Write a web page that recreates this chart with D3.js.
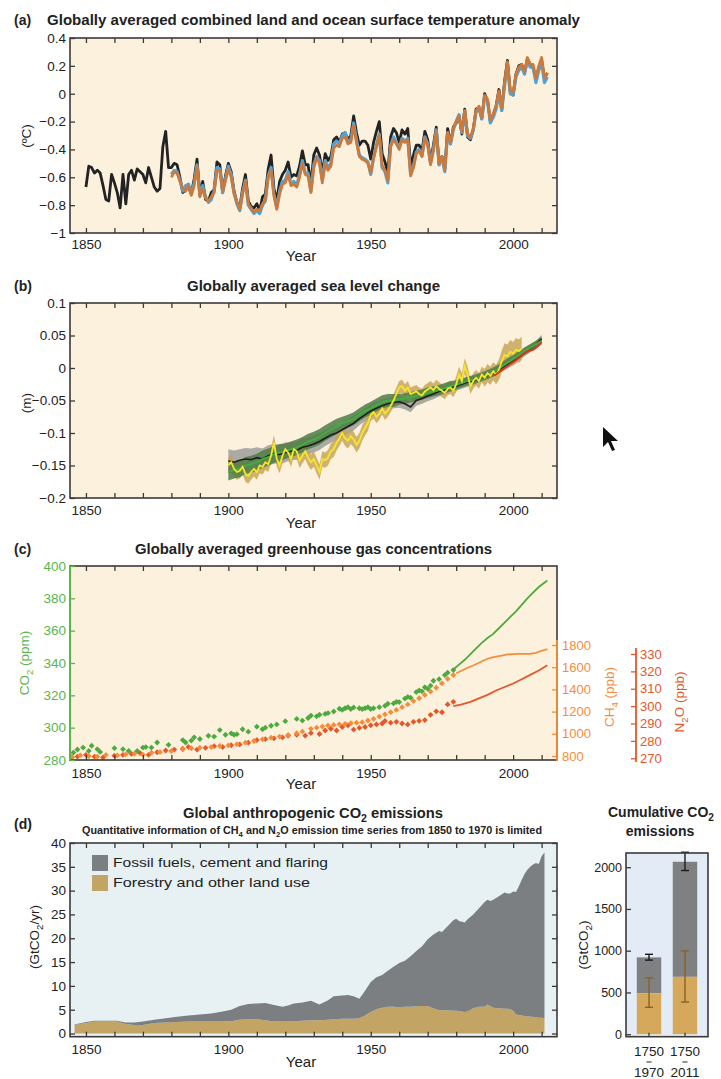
<!DOCTYPE html>
<html><head><meta charset="utf-8">
<script src="https://cdn.jsdelivr.net/npm/d3@7"></script>
<style>
body{margin:0;background:#fff;}
svg text{font-family:'Liberation Sans Narrow','Liberation Sans',Arial,sans-serif;}
</style></head><body>
<svg id="c" width="721" height="1079"></svg>
<script>
// ================= DATA =================
// (a) temperature anomaly (degC), yearly
const hadStart = 1850;
const hadcrut = [
-0.67,-0.52,-0.53,-0.57,-0.55,-0.57,-0.66,-0.76,-0.77,-0.58,
-0.64,-0.71,-0.82,-0.58,-0.79,-0.58,-0.55,-0.62,-0.54,-0.56,
-0.58,-0.64,-0.53,-0.60,-0.67,-0.70,-0.68,-0.38,-0.27,-0.53,
-0.53,-0.50,-0.51,-0.60,-0.71,-0.69,-0.67,-0.72,-0.61,-0.47,
-0.72,-0.63,-0.76,-0.77,-0.71,-0.69,-0.49,-0.51,-0.71,-0.59,
-0.50,-0.56,-0.70,-0.78,-0.82,-0.68,-0.58,-0.77,-0.81,-0.82,
-0.79,-0.84,-0.74,-0.72,-0.54,-0.44,-0.68,-0.77,-0.63,-0.58,
-0.55,-0.49,-0.60,-0.58,-0.59,-0.52,-0.41,-0.51,-0.51,-0.65,
-0.44,-0.39,-0.44,-0.57,-0.43,-0.48,-0.45,-0.33,-0.31,-0.35,
-0.29,-0.28,-0.33,-0.30,-0.16,-0.28,-0.37,-0.34,-0.34,-0.37,
-0.47,-0.35,-0.27,-0.20,-0.43,-0.49,-0.57,-0.31,-0.25,-0.28,
-0.35,-0.26,-0.29,-0.25,-0.52,-0.44,-0.37,-0.37,-0.41,-0.27,
-0.33,-0.49,-0.37,-0.24,-0.51,-0.45,-0.54,-0.25,-0.36,-0.24,
-0.21,-0.16,-0.29,-0.11,-0.31,-0.33,-0.26,-0.11,-0.10,-0.18,
0.00,-0.05,-0.20,-0.15,-0.09,0.03,-0.12,0.09,0.24,0.01,
-0.01,0.14,0.20,0.21,0.15,0.25,0.21,0.19,0.10,0.19,
0.24,0.11,0.15];
const otherStart = 1880;
const mlost = [
-0.60,-0.56,-0.57,-0.63,-0.68,-0.70,-0.66,-0.73,-0.66,-0.52,
-0.74,-0.68,-0.75,-0.77,-0.74,-0.71,-0.55,-0.55,-0.70,-0.62,
-0.54,-0.60,-0.72,-0.78,-0.83,-0.72,-0.63,-0.79,-0.82,-0.85,
-0.83,-0.84,-0.79,-0.76,-0.60,-0.55,-0.73,-0.83,-0.72,-0.65,
-0.64,-0.58,-0.66,-0.65,-0.67,-0.60,-0.50,-0.58,-0.59,-0.71,
-0.53,-0.46,-0.50,-0.64,-0.50,-0.55,-0.52,-0.39,-0.37,-0.38,
-0.32,-0.31,-0.36,-0.35,-0.23,-0.35,-0.45,-0.47,-0.48,-0.50,
-0.57,-0.46,-0.38,-0.30,-0.52,-0.55,-0.62,-0.38,-0.33,-0.36,
-0.40,-0.33,-0.35,-0.33,-0.59,-0.53,-0.43,-0.41,-0.45,-0.32,
-0.37,-0.51,-0.41,-0.27,-0.50,-0.45,-0.55,-0.28,-0.35,-0.25,
-0.20,-0.16,-0.27,-0.12,-0.29,-0.31,-0.25,-0.12,-0.09,-0.17,
-0.01,-0.04,-0.19,-0.15,-0.09,0.02,-0.10,0.08,0.23,0.02,
0.01,0.14,0.19,0.21,0.16,0.26,0.21,0.21,0.11,0.20,
0.26,0.11,0.15];
const giss = [
-0.58,-0.55,-0.56,-0.62,-0.70,-0.66,-0.65,-0.72,-0.64,-0.51,
-0.73,-0.66,-0.74,-0.78,-0.76,-0.70,-0.53,-0.54,-0.71,-0.61,
-0.52,-0.58,-0.71,-0.79,-0.84,-0.71,-0.62,-0.80,-0.83,-0.86,
-0.84,-0.86,-0.80,-0.77,-0.59,-0.53,-0.72,-0.82,-0.70,-0.63,
-0.62,-0.56,-0.65,-0.63,-0.66,-0.58,-0.48,-0.57,-0.57,-0.70,
-0.51,-0.45,-0.48,-0.62,-0.48,-0.53,-0.50,-0.36,-0.34,-0.36,
-0.30,-0.28,-0.35,-0.33,-0.21,-0.33,-0.44,-0.46,-0.47,-0.49,
-0.58,-0.46,-0.37,-0.29,-0.53,-0.56,-0.64,-0.37,-0.31,-0.35,
-0.39,-0.32,-0.34,-0.32,-0.58,-0.52,-0.42,-0.40,-0.45,-0.31,
-0.36,-0.50,-0.40,-0.26,-0.51,-0.46,-0.56,-0.28,-0.36,-0.26,
-0.20,-0.15,-0.28,-0.13,-0.30,-0.32,-0.26,-0.13,-0.10,-0.18,
-0.02,-0.05,-0.21,-0.17,-0.11,0.00,-0.12,0.06,0.20,0.00,
-0.01,0.12,0.17,0.19,0.14,0.24,0.19,0.19,0.08,0.17,
0.22,0.08,0.12];
const tempTicks = [-1,-0.8,-0.6,-0.4,-0.2,0,0.2,0.4];

// (b) sea level (m)
const slStart = 1900, slStep = 2;
const slBlack = [
-0.143,-0.145,-0.142,-0.140,-0.141,-0.138,-0.140,-0.135,-0.132,-0.133,
-0.130,-0.128,-0.127,-0.122,-0.120,-0.117,-0.113,-0.108,-0.103,-0.100,
-0.095,-0.090,-0.085,-0.078,-0.072,-0.066,-0.062,-0.058,-0.055,-0.053,
-0.052,-0.055,-0.060,-0.050,-0.047,-0.043,-0.040,-0.036,-0.034,-0.030,
-0.028,-0.025,-0.022,-0.020,-0.016,-0.013,-0.010,-0.005,0.000,0.005,
0.010,0.016,0.024,0.030,0.036,0.045];
const slBlackUnc = [
0.018,0.018,0.017,0.017,0.017,0.016,0.016,0.016,0.015,0.015,
0.015,0.014,0.014,0.014,0.013,0.013,0.013,0.012,0.012,0.012,
0.011,0.011,0.011,0.010,0.010,0.010,0.010,0.009,0.009,0.009,
0.009,0.009,0.008,0.008,0.008,0.008,0.008,0.008,0.007,0.007,
0.007,0.007,0.007,0.007,0.006,0.006,0.006,0.006,0.006,0.006,
0.006,0.006,0.006,0.006,0.006,0.006];
const slGreen = [
-0.160,-0.157,-0.155,-0.150,-0.148,-0.145,-0.140,-0.137,-0.133,-0.130,
-0.128,-0.125,-0.122,-0.118,-0.113,-0.110,-0.106,-0.100,-0.095,-0.090,
-0.085,-0.082,-0.078,-0.072,-0.066,-0.062,-0.057,-0.052,-0.050,-0.050,
-0.048,-0.047,-0.045,-0.043,-0.041,-0.038,-0.036,-0.034,-0.031,-0.028,
-0.026,-0.023,-0.020,-0.018,-0.015,-0.012,-0.008,-0.004,0.002,0.008,
0.014,0.020,0.026,0.031,0.036,0.042];
const slGreenUnc = [
0.013,0.013,0.013,0.013,0.013,0.013,0.013,0.013,0.013,0.013,
0.012,0.012,0.012,0.012,0.012,0.012,0.012,0.012,0.012,0.012,
0.010,0.010,0.010,0.010,0.010,0.010,0.010,0.010,0.010,0.010,
0.008,0.008,0.008,0.008,0.008,0.008,0.008,0.008,0.008,0.008,
0.007,0.007,0.007,0.007,0.007,0.007,0.007,0.007,0.007,0.007,
0.006,0.006,0.006,0.006,0.006,0.006];
const slYellowStart = 1900;
const slYellow = [
-0.150,-0.145,-0.155,-0.160,-0.158,-0.152,-0.163,-0.166,-0.160,-0.155,
-0.160,-0.150,-0.152,-0.145,-0.148,-0.135,-0.115,-0.140,-0.150,-0.135,
-0.125,-0.130,-0.140,-0.125,-0.128,-0.142,-0.135,-0.128,-0.138,-0.145,
-0.140,-0.150,-0.160,-0.140,-0.142,-0.138,-0.128,-0.125,-0.115,-0.108,
-0.100,-0.108,-0.112,-0.105,-0.110,-0.118,-0.112,-0.100,-0.092,-0.085,
-0.072,-0.068,-0.075,-0.070,-0.062,-0.070,-0.065,-0.058,-0.050,-0.040,
-0.030,-0.028,-0.035,-0.030,-0.040,-0.038,-0.036,-0.040,-0.042,-0.036,
-0.033,-0.030,-0.034,-0.028,-0.032,-0.035,-0.038,-0.032,-0.030,-0.035,
-0.025,-0.010,-0.020,0.003,-0.010,-0.028,-0.020,-0.015,-0.020,-0.010,
-0.015,-0.008,-0.012,-0.005,-0.010,-0.003,0.010,0.020,0.018,0.025,
0.022,0.028,0.026,0.030];
const slYellowUnc = [
0.012,0.012,0.012,0.012,0.012,0.012,0.012,0.012,0.012,0.012,
0.012,0.012,0.012,0.012,0.012,0.012,0.012,0.012,0.012,0.012,
0.012,0.012,0.012,0.012,0.012,0.012,0.012,0.012,0.012,0.012,
0.012,0.012,0.012,0.012,0.012,0.012,0.012,0.012,0.012,0.012,
0.012,0.012,0.012,0.012,0.012,0.012,0.012,0.012,0.012,0.012,
0.010,0.010,0.010,0.010,0.010,0.010,0.010,0.010,0.010,0.010,
0.010,0.010,0.010,0.010,0.010,0.010,0.010,0.010,0.010,0.010,
0.010,0.010,0.010,0.010,0.010,0.010,0.010,0.010,0.010,0.010,
0.012,0.012,0.012,0.012,0.012,0.012,0.012,0.012,0.012,0.012,
0.014,0.014,0.014,0.014,0.015,0.016,0.017,0.018,0.018,0.018,
0.018,0.018,0.018,0.018];
const slRedStart = 1993;
const slRed = [-0.012,-0.010,-0.006,-0.003,0.000,0.003,0.006,0.009,0.012,0.016,
0.020,0.023,0.026,0.027,0.028,0.031,0.035,0.040];
const seaTicks = [-0.2,-0.15,-0.1,-0.05,0,0.05,0.1];

// (c) greenhouse gases [year, value]
const co2Ice = [[1845.6,284.6],[1847,286.5],[1849,287.7],[1851,285.6],[1852,288.8],[1854,286.7],[1855,285],
[1860,287.3],[1863,286.7],[1865,285.6],[1868,285.6],[1870,287.7],[1871,288],[1873,287.7],[1875,290.8],
[1879,289.4],[1884,292.3],[1885,290.8],[1887,292],[1888,294],[1890,293],[1893,295],[1895,294.5],
[1897,298.5],[1899,295.6],[1901,296.5],[1902,295.6],[1903,296],[1905,299],[1907,297.5],[1910,300.6],
[1912,299],[1913,300],[1915,301.2],[1917,302],[1920,304],[1924,305.4],[1926,304.4],[1928,306],
[1929,307.5],[1931,307],[1932,308],[1934,308.5],[1935,309],[1937,310],[1939,311.7],[1940,311],
[1941,312],[1942,312.7],[1943,311.5],[1944,312.5],[1946,312],[1947,311.5],[1948,312],[1949,312.7],
[1950,311.5],[1951,312],[1953,312.7],[1955,313.5],[1956,314.8],[1958,315],[1959,316],[1960,315.8],
[1962,318],[1963,319],[1964,318.5],[1966,322],[1967,323],[1968,322.5],[1969,325],[1970,324],
[1971,326],[1972,329],[1974,330],[1976,332.5],[1977,334],[1979,335.6]];
const co2Direct = [[1979,336],[1981,339],[1983,342],[1985,345.5],[1987,349],[1989,352.5],[1991,355.5],
[1993,358],[1995,361.5],[1997,365],[1999,368.5],[2001,372],[2003,376],[2005,380],[2007,383.5],[2009,387],[2012,391]];
const ch4Ice = [[1845,795],[1848,805],[1851,800],[1854,795],[1857,810],[1861,805],[1864,815],[1867,820],
[1870,812],[1873,830],[1876,835],[1880,845],[1884,860],[1887,870],[1890,875],[1894,880],[1897,890],
[1900,895],[1903,905],[1906,920],[1909,935],[1912,950],[1915,965],[1918,975],[1921,990],[1924,1005],
[1926,1020],[1929,1045],[1931,1055],[1933,1065],[1935,1075],[1937,1080],[1939,1085],[1941,1090],
[1943,1095],[1945,1100],[1947,1105],[1949,1120],[1951,1135],[1953,1155],[1955,1175],[1957,1195],
[1959,1215],[1961,1240],[1963,1265],[1965,1295],[1967,1320],[1969,1350],[1971,1380],[1973,1415],
[1975,1455],[1977,1495],[1979,1530]];
const ch4Direct = [[1980,1545],[1982,1570],[1984,1595],[1986,1615],[1988,1640],[1990,1665],[1992,1685],
[1994,1695],[1996,1705],[1998,1715],[2000,1718],[2002,1720],[2004,1720],[2006,1720],[2008,1730],
[2010,1748],[2012,1762]];
const n2oIce = [[1845,270.5],[1847,271],[1850,272],[1853,271],[1856,270.5],[1860,271.5],[1863,272],
[1866,272.5],[1869,273],[1872,272],[1875,273.5],[1878,274.5],[1881,275],[1884,275.5],[1886,276.5],
[1889,275],[1892,276],[1895,277],[1898,276.5],[1901,277.5],[1904,278],[1907,279],[1910,280.5],
[1913,281],[1916,281.5],[1919,282],[1921,283],[1924,283.5],[1927,283],[1929,284.5],[1932,284],
[1934,286],[1936,287],[1938,286],[1940,288],[1942,289],[1944,286.5],[1946,287.5],[1948,288],
[1950,289],[1952,289.5],[1954,290],[1955,291.5],[1957,290.5],[1959,291],[1961,290],[1963,289.5],
[1965,291],[1967,291.5],[1969,292],[1971,295],[1973,297],[1975,296.5],[1977,301],[1979,302.5]];
const n2oDirect = [[1979,300],[1982,301],[1985,302.5],[1988,304.5],[1991,306.5],[1994,309],[1997,311],
[2000,313],[2003,315.5],[2006,318],[2009,320.5],[2012,323.5]];
const co2Ticks = [280,300,320,340,360,380,400];
const ch4Ticks = [800,1000,1200,1400,1600,1800];
const n2oTicks = [270,280,290,300,310,320,330];

// (d) emissions GtCO2/yr
const emYears = [1846,1850,1853,1858,1861,1864,1867,1870,1874,1878,1882,1886,1890,1894,1898,1901,1904,1907,
1910,1913,1916,1919,1921,1923,1926,1929,1932,1935,1937,1940,1942,1944,1946,1948,1950,1952,1954,1956,1958,
1960,1962,1964,1966,1968,1970,1972,1974,1975,1977,1979,1980,1981,1983,1984,1986,1988,1990,1991,1992,1993,
1995,1997,1998,1999,2000,2001,2002,2003,2004,2005,2006,2007,2008,2009,2010,2011];
const forestry = [1.8,2.2,2.5,2.5,2.5,2.0,1.8,1.8,2.2,2.3,2.4,2.5,2.5,2.5,2.5,2.6,2.9,3.0,
3.0,2.8,2.5,2.5,2.5,2.6,2.7,2.8,2.8,2.9,3.0,3.1,3.1,3.1,3.2,3.8,4.5,5.1,5.4,5.6,5.6,
5.5,5.6,5.6,5.7,5.8,5.8,5.3,4.9,4.9,4.9,4.8,4.8,4.7,4.5,4.6,5.3,5.6,5.6,6.1,5.7,5.4,
5.3,5.2,5.2,5.1,4.8,4.0,3.9,3.8,3.7,3.6,3.5,3.5,3.4,3.3,3.3,3.2];
const fossil = [0.1,0.2,0.2,0.2,0.2,0.3,0.5,0.7,0.7,0.9,1.1,1.3,1.5,1.7,2.1,2.4,2.9,3.2,
3.3,3.6,3.5,3.1,3.4,3.7,3.8,4.1,3.3,4.1,4.8,4.9,5.0,4.7,4.1,5.2,6.3,6.7,6.9,7.6,8.4,
9.3,9.7,10.6,11.6,12.5,14.0,15.5,16.6,16.4,17.6,19.0,19.3,18.9,18.8,19.4,19.7,20.7,22.0,22.0,22.1,22.7,
23.5,24.4,24.2,24.3,25.0,25.7,27.0,28.5,29.8,30.8,31.5,32.0,32.4,32.3,33.9,34.8];
const emTicks = [0,5,10,15,20,25,30,35,40];
const emKeys = ["forestry","fossil"];
const emLabels = ["Fossil fuels, cement and flaring","Forestry and other land use"];

// cumulative emissions GtCO2
const cumCats = ["1750–1970","1750–2011"];
const cumTotal = [920,2065];
const cumForestry = [489,687];
const cumTotalErr = [[887,957],[1960,2179]];
const cumForestryErr = [[322,675],[385,997]];
const cumTicks = [0,500,1000,1500,2000];

// ================= DRAWING =================
const FONT = "'Liberation Sans Narrow','Liberation Sans',Arial,sans-serif";
const svg = d3.select("#c");
const X0 = 70, X1 = 557, FRAME = "#3a3a3a";
const x = d3.scaleLinear().domain([1844.4, 2015.4]).range([X0, X1]);
const decade = d3.range(1850, 2011, 10);
const defs = svg.append("defs");

function rich(sel, parts, size){
  let sub = false;
  parts.forEach(p => {
    const t = sel.append("tspan");
    if (p.startsWith("_")) { t.attr("font-size", size*0.72).attr("dy", size*0.28).text(p.slice(1)); sub = true; }
    else { if (sub) t.attr("dy", -size*0.28); t.text(p); sub = false; }
  });
  return sel;
}
function txt(xp, yp, parts, o={}){
  const size = o.size || 14;
  const t = svg.append("text").attr("x", xp).attr("y", yp)
    .attr("font-size", size).attr("fill", o.color || "#222")
    .attr("font-weight", o.bold ? "bold" : "normal")
    .attr("text-anchor", o.anchor || "start");
  if (o.rotate) t.attr("transform", `rotate(-90,${xp},${yp})`);
  if (o.len) t.attr("textLength", o.len).attr("lengthAdjust", "spacingAndGlyphs");
  rich(t, Array.isArray(parts) ? parts : [parts], size);
  return t;
}
function styleAxis(g, color, size){
  color = color || "#222";
  g.attr("font-family", FONT);
  g.select(".domain").remove();
  g.selectAll(".tick line").attr("stroke", color === "#222" ? FRAME : color).attr("stroke-width", 1.3);
  g.selectAll(".tick text").attr("fill", color).attr("font-size", size || 13.5);
}
function makePanel(id, top, bottom, bg){
  svg.append("rect").attr("x", X0).attr("y", top).attr("width", X1-X0).attr("height", bottom-top).attr("fill", bg);
  defs.append("clipPath").attr("id", "clip"+id).append("rect")
    .attr("x", X0).attr("y", top).attr("width", X1-X0).attr("height", bottom-top);
  return svg.append("g").attr("clip-path", `url(#clip${id})`);
}
function xAxes(top, bottom, pad){
  svg.append("g").attr("transform", `translate(0,${bottom})`)
    .call(d3.axisBottom(x).tickValues(decade).tickSize(-5).tickPadding(pad)
      .tickFormat(d => d % 50 === 0 ? d : "")).call(g => styleAxis(g));
  svg.append("g").attr("transform", `translate(0,${top})`)
    .call(d3.axisTop(x).tickValues(decade).tickSize(-5).tickFormat("")).call(g => styleAxis(g));
}
function yAxes(y, ticks, fmt, right, color){
  svg.append("g").attr("transform", `translate(${X0},0)`)
    .call(d3.axisLeft(y).tickValues(ticks).tickSize(-5).tickPadding(4).tickFormat(fmt)).call(g => styleAxis(g, color));
  if (right) svg.append("g").attr("transform", `translate(${X1},0)`)
    .call(d3.axisRight(y).tickValues(ticks).tickSize(-5).tickFormat("")).call(g => styleAxis(g));
}
function frame(top, bottom){
  svg.append("rect").attr("x", X0).attr("y", top).attr("width", X1-X0).attr("height", bottom-top)
    .attr("fill", "none").attr("stroke", FRAME).attr("stroke-width", 1.6);
}
const fmtG = d3.format("~g");
const fmtD = d3.format("d");

// ---------- (a) ----------
{
  const top = 38, bottom = 233;
  const y = d3.scaleLinear().domain([-1, 0.4]).range([bottom, top]);
  const p = makePanel("a", top, bottom, "#fcf1dd");
  const line = d3.line().x(d => x(d[0])).y(d => y(d[1]));
  const had = hadcrut.map((v,i) => [hadStart+i, v]);
  const ml = mlost.map((v,i) => [otherStart+i, v]);
  const gi = giss.map((v,i) => [otherStart+i, v]);
  p.append("path").attr("d", line(had)).attr("fill","none").attr("stroke","#232323").attr("stroke-width",2.8).attr("stroke-linejoin","round");
  p.append("path").attr("d", line(gi)).attr("fill","none").attr("stroke","#4fa3da").attr("stroke-width",3.2).attr("stroke-linejoin","round");
  p.append("path").attr("d", line(ml)).attr("fill","none").attr("stroke","#cc7a3c").attr("stroke-width",2.8).attr("stroke-linejoin","round");
  xAxes(top, bottom, 6);
  yAxes(y, tempTicks, fmtG, true);
  frame(top, bottom);
  txt(14, 25, "(a)", {bold:true, size:14});
  txt(47, 25, "Globally averaged combined land and ocean surface temperature anomaly", {bold:true, size:14, len:533});
  txt(31, 136, "(ºC)", {rotate:true, anchor:"middle", size:13.5});
  txt(301, 261, "Year", {anchor:"middle", size:15});
}

// ---------- (b) ----------
{
  const top = 303, bottom = 498;
  const y = d3.scaleLinear().domain([-0.2, 0.1]).range([bottom, top]);
  const p = makePanel("b", top, bottom, "#fcf1dd");
  const blk = slBlack.map((v,i) => ({yr: slStart+i*slStep, v, u: slBlackUnc[i]}));
  const grn = slGreen.map((v,i) => ({yr: slStart+i*slStep, v, u: slGreenUnc[i]}));
  const yel = slYellow.map((v,i) => ({yr: slYellowStart+i, v, u: slYellowUnc[i]}));
  const red = slRed.map((v,i) => ({yr: slRedStart+i, v}));
  const band = d3.area().x(d => x(d.yr)).y0(d => y(d.v - d.u)).y1(d => y(d.v + d.u));
  const line = d3.line().x(d => x(d.yr)).y(d => y(d.v));
  p.append("path").attr("d", band(blk)).attr("fill","#9c9d9a").attr("opacity",0.85);
  p.append("path").attr("d", band(yel)).attr("fill","#c4a253").attr("opacity",0.8);
  p.append("path").attr("d", band(grn)).attr("fill","#4f7d48").attr("opacity",0.85);
  p.append("path").attr("d", line(blk)).attr("fill","none").attr("stroke","#1e1e1e").attr("stroke-width",1.6);
  p.append("path").attr("d", line(grn)).attr("fill","none").attr("stroke","#3db33a").attr("stroke-width",1.8);
  p.append("path").attr("d", line(yel)).attr("fill","none").attr("stroke","#f5e62c").attr("stroke-width",1.8);
  p.append("path").attr("d", line(red)).attr("fill","none").attr("stroke","#e2321f").attr("stroke-width",1.8);
  xAxes(top, bottom, 7);
  yAxes(y, seaTicks, fmtG, true);
  frame(top, bottom);
  txt(14, 291, "(b)", {bold:true});
  txt(187, 291, "Globally averaged sea level change", {bold:true, len:253});
  txt(31, 403, "(m)", {rotate:true, anchor:"middle", size:13.5});
  txt(301, 528, "Year", {anchor:"middle", size:15});
}

// ---------- (c) ----------
{
  const top = 566, bottom = 760;
  const yC = d3.scaleLinear().domain([280, 400]).range([bottom, top]);
  const yM = d3.scaleLinear().domain([800, 1800]).range([756, 645]);
  const yN = d3.scaleLinear().domain([270, 330]).range([758.3, 654]);
  const p = makePanel("c", top, bottom, "#fcf1dd");
  const GC = "#4caa3e", MC = "#f78c38", NC = "#e5562a";
  const sym = d3.symbol().type(d3.symbolSquare).size(17);
  const drawPts = (arr, ys, col) => p.append("g").selectAll("path").data(arr).join("path")
      .attr("d", sym).attr("transform", d => `translate(${x(d[0])},${ys(d[1])}) rotate(45)`).attr("fill", col);
  const drawLine = (arr, ys, col) => p.append("path")
      .attr("d", d3.line().x(d => x(d[0])).y(d => ys(d[1]))(arr)).attr("fill","none").attr("stroke",col).attr("stroke-width",1.8);
  drawPts(n2oIce, yN, NC); drawLine(n2oDirect, yN, NC);
  drawPts(ch4Ice, yM, MC); drawLine(ch4Direct, yM, MC);
  drawPts(co2Ice, yC, GC); drawLine(co2Direct, yC, GC);
  xAxes(top, bottom, 8);
  frame(top, bottom);
  // CO2 axis (left, green)
  svg.append("g").attr("transform", `translate(${X0},0)`)
    .call(d3.axisLeft(yC).tickValues(co2Ticks).tickSize(-5).tickPadding(4).tickFormat(fmtD)).call(g => styleAxis(g, "#5ab54c"));
  svg.append("line").attr("x1",X0).attr("x2",X0).attr("y1",top).attr("y2",bottom).attr("stroke","#5ab54c").attr("stroke-width",2);
  // CH4 axis
  svg.append("g").attr("transform", `translate(${X1},0)`)
    .call(d3.axisRight(yM).tickValues(ch4Ticks).tickSize(-5).tickPadding(5).tickFormat(fmtD)).call(g => styleAxis(g, MC, 13));
  svg.append("line").attr("x1",X1).attr("x2",X1).attr("y1",640).attr("y2",761).attr("stroke",MC).attr("stroke-width",1.8);
  // N2O axis
  svg.append("g").attr("transform", `translate(636,0)`)
    .call(d3.axisRight(yN).tickValues(n2oTicks).tickSize(-5).tickPadding(4).tickFormat(fmtD)).call(g => styleAxis(g, NC, 13));
  svg.append("line").attr("x1",636).attr("x2",636).attr("y1",648).attr("y2",762).attr("stroke",NC).attr("stroke-width",1.8);
  txt(14, 554, "(c)", {bold:true});
  txt(135, 554, "Globally averaged greenhouse gas concentrations", {bold:true, len:357});
  txt(29, 663, ["CO","_2"," (ppm)"], {rotate:true, anchor:"middle", color:"#5ab54c", size:13.5});
  txt(614, 697, ["CH","_4"," (ppb)"], {rotate:true, anchor:"middle", color:MC, size:13.5});
  txt(684, 702, ["N","_2","O (ppb)"], {rotate:true, anchor:"middle", color:NC, size:13.5});
  txt(301, 789, "Year", {anchor:"middle", size:15});
}

// ---------- (d) ----------
{
  const top = 843, bottom = 1036.7;
  const y = d3.scaleLinear().domain([-0.67, 40]).range([bottom, top]);
  const p = makePanel("d", top, bottom, "#e7f0f3");
  const rows = emYears.map((yr,i) => ({year: yr, forestry: forestry[i], fossil: fossil[i]}));
  const stack = d3.stack().keys(emKeys)(rows);
  const area = d3.area().x(d => x(d.data.year)).y0(d => y(d[0])).y1(d => y(d[1]));
  const cols = {forestry: "#c2a465", fossil: "#7b7f82"};
  p.selectAll("path.s").data(stack).join("path").attr("d", area).attr("fill", d => cols[d.key]);
  xAxes(top, bottom, 8);
  yAxes(y, emTicks, fmtD, true);
  frame(top, bottom);
  // legend
  const leg = [["fossil", emLabels[0], 855, 215], ["forestry", emLabels[1], 875, 197]];
  leg.forEach(([k, lab, yy, len]) => {
    svg.append("rect").attr("x", 92).attr("y", yy).attr("width", 16).attr("height", 16).attr("fill", cols[k]);
    txt(113, yy+12, lab, {size:12.5, len});
  });
  txt(14, 829, "(d)", {bold:true});
  txt(183, 818, ["Global anthropogenic CO","_2"," emissions"], {bold:true, len:260});
  txt(82, 834, ["Quantitative information of CH","_4"," and N","_2","O emission time series from 1850 to 1970 is limited"], {size:10, len:460, bold:true});
  txt(39, 937, ["(GtCO","_2","/yr)"], {rotate:true, anchor:"middle", size:13.5});
  txt(301, 1067, "Year", {anchor:"middle", size:15});
}

// ---------- cumulative ----------
{
  const L = 626, R = 708, top = 853, bottom = 1036.7;
  const xb = d3.scaleBand().domain(cumCats).range([L, R]).paddingInner(0.32).paddingOuter(0.3);
  const y = d3.scaleLinear().domain([-30, 2170]).range([bottom, top]);
  svg.append("rect").attr("x", L).attr("y", top).attr("width", R-L).attr("height", bottom-top).attr("fill", "#e3ebf6");
  const g = svg.append("g");
  cumCats.forEach((c, i) => {
    const bx = xb(c), bw = xb.bandwidth(), cx = bx + bw/2;
    g.append("rect").attr("x", bx).attr("width", bw).attr("y", y(cumTotal[i])).attr("height", y(cumForestry[i]) - y(cumTotal[i])).attr("fill", "#7f8082");
    g.append("rect").attr("x", bx).attr("width", bw).attr("y", y(cumForestry[i])).attr("height", y(0) - y(cumForestry[i])).attr("fill", "#d5a85c");
    [[cumTotalErr[i], "#1c1c1c"], [cumForestryErr[i], "#8a6224"]].forEach(([e, col]) => {
      g.append("line").attr("x1", cx).attr("x2", cx).attr("y1", y(e[0])).attr("y2", y(e[1])).attr("stroke", col).attr("stroke-width", 1.4);
      e.forEach(v => g.append("line").attr("x1", cx-4).attr("x2", cx+4).attr("y1", y(v)).attr("y2", y(v)).attr("stroke", col).attr("stroke-width", 1.4));
    });
  });
  svg.append("g").attr("transform", `translate(${L},0)`)
    .call(d3.axisLeft(y).tickValues(cumTicks).tickSize(-5).tickPadding(4).tickFormat(fmtD)).call(g => styleAxis(g, null, 12.5));
  svg.append("g").attr("transform", `translate(0,${bottom})`)
    .call(d3.axisBottom(xb).tickSize(-4).tickFormat("")).call(g => styleAxis(g));
  svg.append("rect").attr("x", L).attr("y", top).attr("width", R-L).attr("height", bottom-top)
    .attr("fill", "none").attr("stroke", FRAME).attr("stroke-width", 1.6);
  cumCats.forEach(c => {
    const cx = xb(c) + xb.bandwidth()/2;
    const [a, b] = c.split("–");
    txt(cx, 1056, a, {anchor:"middle", size:13.5});
    svg.append("line").attr("x1", cx-2.5).attr("x2", cx+2.5).attr("y1", 1062).attr("y2", 1062).attr("stroke", "#222").attr("stroke-width", 1);
    txt(cx, 1077, b, {anchor:"middle", size:13.5});
  });
  txt(608, 817, ["Cumulative CO","_2"], {bold:true});
  txt(660, 836, "emissions", {bold:true, anchor:"middle"});
  txt(588, 945, ["(GtCO","_2",")"], {rotate:true, anchor:"middle", size:13.5});
}

// mouse pointer present in the reference picture
svg.append("path").attr("d", "M603,427 L603,447 L608,442 L612,451 L615,450 L611,441 L618,441 Z").attr("fill", "#111");
</script>
</body></html>
